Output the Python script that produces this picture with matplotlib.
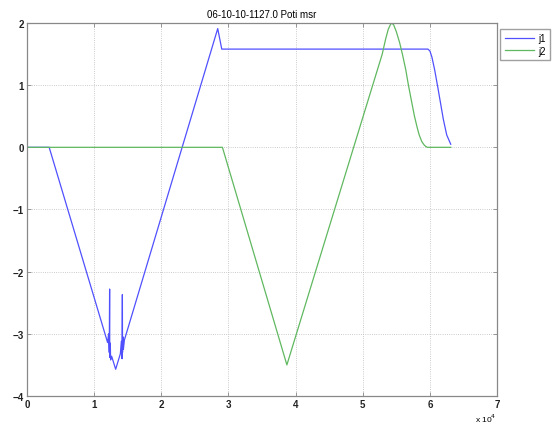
import numpy as np
import matplotlib
matplotlib.use("Agg")
import matplotlib.pyplot as plt

plt.rcParams["font.family"] = ["Liberation Sans", "DejaVu Sans"]

title = "06-10-10-1127.0 Poti msr"

# x in units of 1e4 samples
j1_x = [0, 0.33, 1.15, 1.20, 1.215, 1.225, 1.23, 1.232, 1.24, 1.245, 1.26,
        1.32, 1.39, 1.405, 1.415, 1.42, 1.422, 1.43, 1.435, 1.45,
        2.84, 2.90, 5.97, 6.00, 6.03, 6.07, 6.12, 6.16, 6.20, 6.25, 6.31]
j1_y = [0, 0, -2.96, -3.14, -3.0, -3.3, -2.28, -3.38, -3.15, -3.42, -3.36,
        -3.57, -3.32, -3.12, -3.4, -2.37, -3.3, -3.05, -3.25, -3.10,
        1.91, 1.58, 1.58, 1.55, 1.45, 1.25, 0.95, 0.70, 0.45, 0.20, 0.05]

j2_x = [0, 2.91, 3.87, 5.29, 5.34, 5.38, 5.41, 5.43, 5.46, 5.50, 5.55,
        5.59, 5.64, 5.68, 5.73, 5.77, 5.81, 5.84, 5.88, 5.92, 5.96, 6.31]
j2_y = [0, 0, -3.5, 1.50, 1.74, 1.90, 1.97, 2.0, 1.97, 1.86, 1.68,
        1.50, 1.25, 1.00, 0.72, 0.50, 0.32, 0.20, 0.09, 0.03, 0, 0]

xticks = [0, 1, 2, 3, 4, 5, 6, 7]
yticks = [-4, -3, -2, -1, 0, 1, 2]


def main():
    fig = plt.figure(figsize=(5.56, 4.27), dpi=100)
    ax = fig.add_axes([0.0486, 0.0703, 0.8454, 0.8735])

    ax.plot(j1_x, j1_y, color="#5050ff", linewidth=0.9, label="j1")
    ax.plot(j2_x, j2_y, color="#60b860", linewidth=0.9, label="j2")

    ax.set_xlim(0, 7)
    ax.set_ylim(-4, 2)
    ax.set_xticks(xticks)
    ax.set_yticks(yticks)
    ax.tick_params(direction="in", length=3, labelsize=7, width=0.6,
                   top=True, right=True, pad=2, colors="#888888",
                   labelcolor="#222222")
    for lab in ax.get_xticklabels() + ax.get_yticklabels():
        lab.set_fontweight("bold")
    ax.grid(True, linestyle=":", color="#bbbbbb", linewidth=0.6)
    for s in ax.spines.values():
        s.set_color("#888888")
        s.set_linewidth(0.9)

    ax.set_title(title, fontsize=7, pad=4)
    fig.text(0.893, 0.005, "x 10$^4$", fontsize=6, ha="right", va="bottom")

    ax.legend(loc="upper left", bbox_to_anchor=(0.9, 0.93),
              bbox_transform=fig.transFigure, fontsize=7, frameon=True,
              fancybox=False, edgecolor="#888888", handlelength=3.0,
              borderpad=0.45, labelspacing=0.25, handletextpad=0.4,
              borderaxespad=0)

    fig.savefig("out.png", dpi=100)


if __name__ == "__main__":
    main()
